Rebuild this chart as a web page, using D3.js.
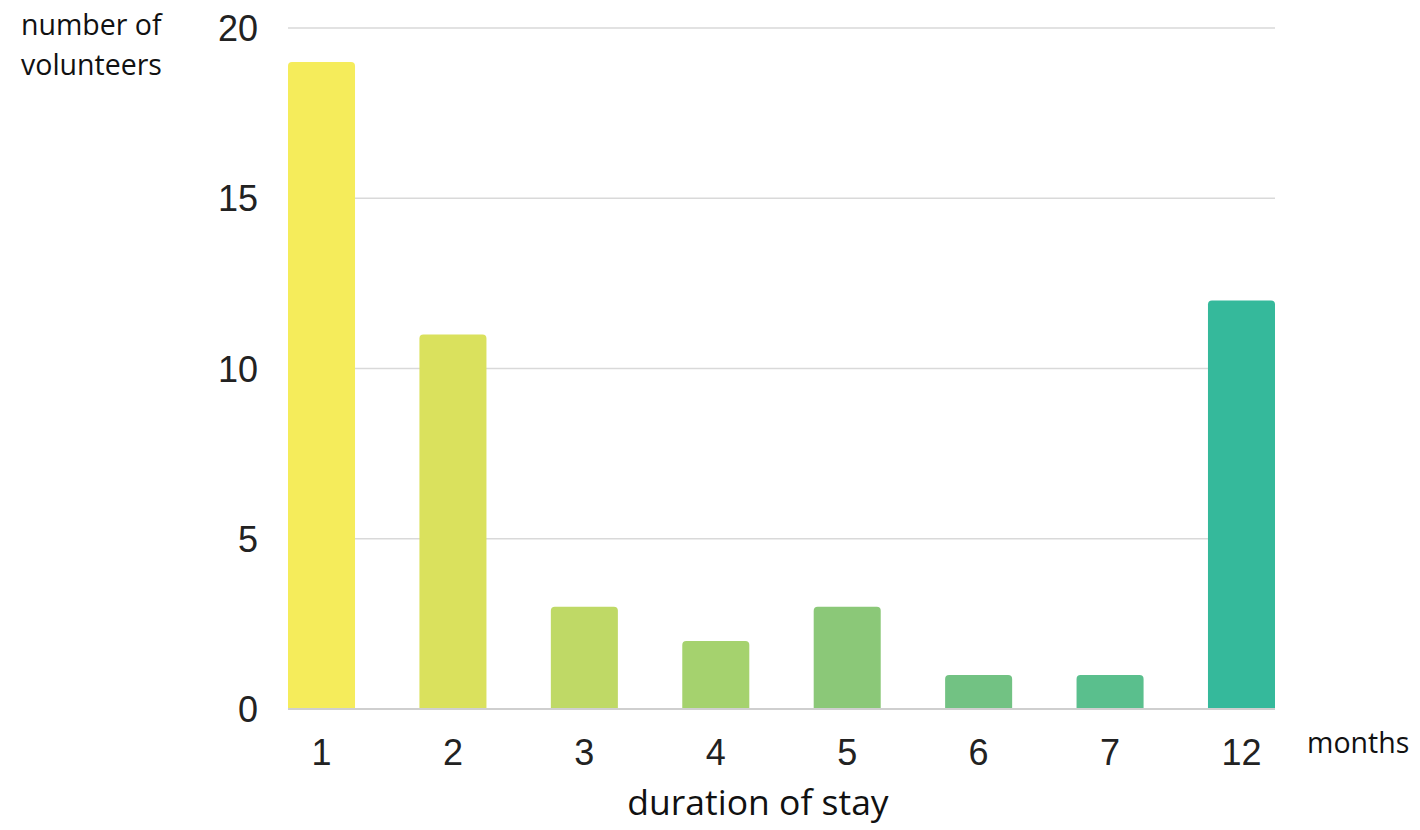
<!DOCTYPE html>
<html><head><meta charset="utf-8">
<script src="https://cdn.jsdelivr.net/npm/d3@7"></script>
<style>body{margin:0;background:#fff}</style>
</head><body>
<svg id="c" width="1420" height="830"></svg>
<script>
const categories = ["1","2","3","4","5","6","7","12"];
const values = [19, 11, 3, 2, 3, 1, 1, 12];
const colors = ["#f5ec5b","#dae15d","#bfd966","#a5d26e","#8bc878","#72c283","#5abf8d","#35b99b"];
const yTicks = [0, 5, 10, 15, 20];

(function () {
const svg = d3.select("#c");
const pL = 288, pR = 1275, pT = 28, pB = 709;
const x = d3.scaleBand().domain(categories).range([pL, pR]).paddingInner(0.49).paddingOuter(0);
const y = d3.scaleLinear().domain([0, 20]).range([pB, pT]);

// grid
svg.append("g").selectAll("line").data(yTicks.filter(d => d > 0)).join("line")
  .attr("x1", pL).attr("x2", pR)
  .attr("y1", d => y(d)).attr("y2", d => y(d))
  .attr("stroke", "#d9d9d9").attr("stroke-width", 1.5);

// bars with rounded top
const r = 4;
svg.append("g").selectAll("path").data(values).join("path")
  .attr("fill", (d, i) => colors[i])
  .attr("d", (d, i) => {
    const x0 = x(categories[i]), w = x.bandwidth(), y0 = y(d), yb = y(0);
    return `M${x0},${yb}V${y0 + r}Q${x0},${y0} ${x0 + r},${y0}H${x0 + w - r}Q${x0 + w},${y0} ${x0 + w},${y0 + r}V${yb}Z`;
  });

// baseline
svg.append("line").attr("x1", pL).attr("x2", pR).attr("y1", y(0)).attr("y2", y(0))
  .attr("stroke", "#cfcfcf").attr("stroke-width", 2);

// y tick labels
svg.append("g").selectAll("text").data(yTicks).join("text")
  .attr("x", 258).attr("y", d => y(d) + 13)
  .attr("text-anchor", "end")
  .attr("font-family", "Liberation Sans, Arial, sans-serif").attr("font-size", 36).attr("fill", "#222")
  .text(d => d);

// x tick labels
svg.append("g").selectAll("text").data(categories).join("text")
  .attr("x", d => x(d) + x.bandwidth() / 2).attr("y", 765)
  .attr("text-anchor", "middle")
  .attr("font-family", "Liberation Sans, Arial, sans-serif").attr("font-size", 36).attr("fill", "#222")
  .text(d => d);

const tf = "Open Sans, sans-serif";
svg.append("text").attr("x", 21).attr("y", 35).attr("font-family", tf).attr("font-size", 28.5).attr("fill", "#111").text("number of");
svg.append("text").attr("x", 21).attr("y", 75).attr("font-family", tf).attr("font-size", 28.5).attr("fill", "#111").text("volunteers");
svg.append("text").attr("x", 1307).attr("y", 753).attr("font-family", tf).attr("font-size", 28.5).attr("fill", "#111").text("months");
svg.append("text").attr("x", 758).attr("y", 815).attr("text-anchor", "middle").attr("font-family", tf).attr("font-size", 35.5).attr("fill", "#111").text("duration of stay");
})();
</script>
</body></html>
